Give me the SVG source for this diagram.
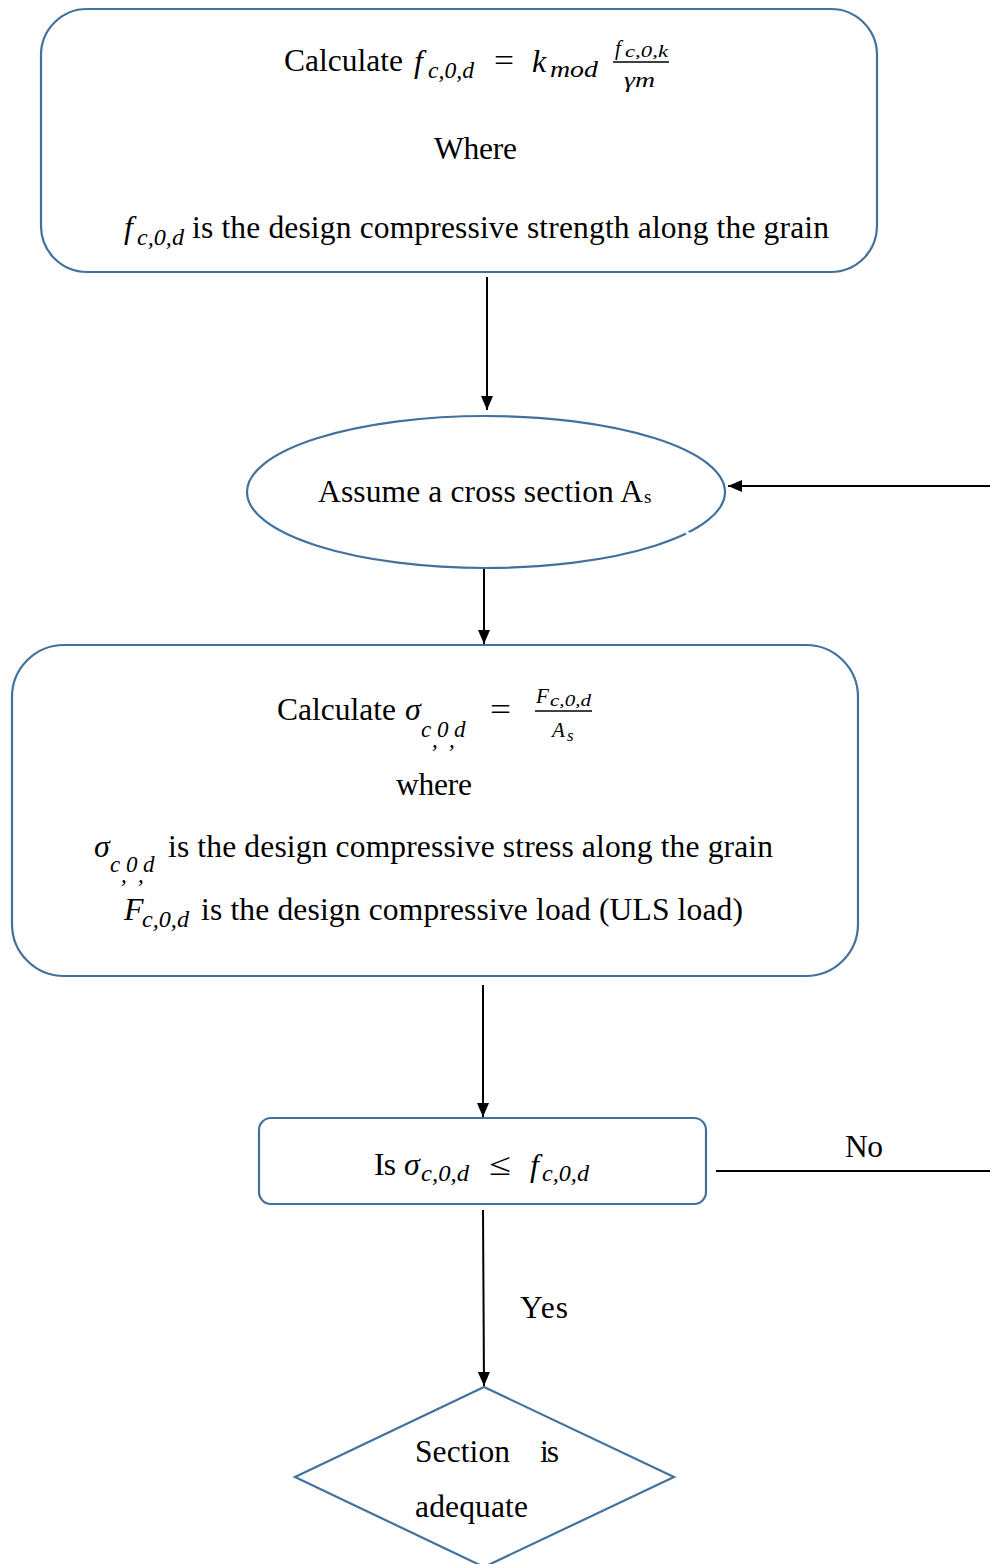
<svg xmlns="http://www.w3.org/2000/svg" width="990" height="1564" viewBox="0 0 990 1564">
  <style>
    .box { fill: #ffffff; stroke: #41719c; stroke-width: 2.2; }
    .t { font-family: "Liberation Serif", "Times New Roman", Tinos, serif; font-size: 31.5px; fill: #000; }
    .m { font-family: "Liberation Serif", "Times New Roman", Tinos, serif; font-style: italic; font-size: 32px; fill: #000; }
    .s { font-family: "Liberation Serif", "Times New Roman", Tinos, serif; font-style: italic; font-size: 23px; fill: #000; }
    .f { font-family: "Liberation Serif", "Times New Roman", Tinos, serif; font-style: italic; font-size: 21px; fill: #000; }
    .fs { font-family: "Liberation Serif", "Times New Roman", Tinos, serif; font-style: italic; font-size: 17px; fill: #000; }
    .sn { font-family: "Liberation Serif", "Times New Roman", Tinos, serif; font-size: 19px; fill: #000; }
    .line { stroke: #000; stroke-width: 2; fill: none; }
    .bar { stroke: #000; stroke-width: 1.4; }
  </style>
  <defs>
    <marker id="ah" viewBox="0 0 14 12" refX="14" refY="6" markerWidth="14" markerHeight="12" orient="auto" markerUnits="userSpaceOnUse">
      <path d="M0,0 L14,6 L0,12 z" fill="#000"/>
    </marker>
  </defs>
  <rect width="990" height="1564" fill="#ffffff"/>

  <!-- connectors -->
  <g id="connectors">
    <line class="line" x1="487" y1="277" x2="487" y2="410" marker-end="url(#ah)"/>
    <line class="line" x1="990" y1="486" x2="728" y2="486" marker-end="url(#ah)"/>
    <line class="line" x1="484" y1="569" x2="484" y2="644" marker-end="url(#ah)"/>
    <line class="line" x1="483" y1="985" x2="483" y2="1117" marker-end="url(#ah)"/>
    <line class="line" x1="716" y1="1171" x2="990" y2="1171"/>
    <line class="line" x1="483" y1="1210" x2="484" y2="1386" marker-end="url(#ah)"/>
    <text class="t" x="845" y="1157" textLength="38">No</text>
    <text class="t" x="520" y="1318" textLength="48">Yes</text>
  </g>

  <!-- design strength -->
  <g id="node-strength">
    <rect class="box" x="41" y="9" width="836" height="263" rx="46" ry="46"/>
    <text class="t" x="284" y="71" textLength="119">Calculate</text>
    <text class="m" x="414" y="72">f</text>
    <text class="s" x="428" y="78" textLength="46" lengthAdjust="spacingAndGlyphs">c,0,d</text>
    <text class="t" x="494" y="71" textLength="20" lengthAdjust="spacingAndGlyphs">=</text>
    <text class="m" x="532" y="72">k</text>
    <text class="s" x="550" y="77" textLength="48" lengthAdjust="spacingAndGlyphs">mod</text>
    <text class="f" x="615" y="55">f</text>
    <text class="fs" x="625" y="57" textLength="43" lengthAdjust="spacingAndGlyphs">c,0,k</text>
    <line class="bar" x1="613" y1="62" x2="669" y2="62"/>
    <text class="f" x="624" y="87" textLength="31" lengthAdjust="spacingAndGlyphs">γm</text>
    <text class="t" x="434" y="159" textLength="83">Where</text>
    <text class="m" x="124" y="238">f</text>
    <text class="s" x="137" y="245" textLength="47" lengthAdjust="spacingAndGlyphs">c,0,d</text>
    <text class="t" x="192" y="238" textLength="637">is the design compressive strength along the grain</text>
  </g>

  <!-- cross section -->
  <g id="node-section">
    <ellipse class="box" cx="486" cy="492" rx="239" ry="76"/>
    <line x1="686" y1="532" x2="692" y2="536" stroke="#ffffff" stroke-width="3"/>
    <text class="t" x="318" y="502" textLength="325">Assume a cross section A</text>
    <text class="sn" x="644" y="503">s</text>
  </g>

  <!-- design stress -->
  <g id="node-stress">
    <rect class="box" x="12" y="645" width="846" height="331" rx="52" ry="52"/>
    <text class="t" x="277" y="720" textLength="119">Calculate</text>
    <text class="m" x="405" y="720">σ</text>
    <text class="s" x="421" y="737">c</text>
    <text class="s" x="437" y="737" font-style="normal">0</text>
    <text class="s" x="454" y="737">d</text>
    <text class="s" x="432" y="747">,</text>
    <text class="s" x="449" y="747">,</text>
    <text class="t" x="490" y="720" textLength="21" lengthAdjust="spacingAndGlyphs">=</text>
    <text class="f" x="536" y="703">F</text>
    <text class="fs" x="550" y="706" textLength="41" lengthAdjust="spacingAndGlyphs">c,0,d</text>
    <line class="bar" x1="535" y1="711" x2="592" y2="711"/>
    <text class="f" x="552" y="737">A</text>
    <text class="fs" x="567" y="741">s</text>
    <text class="t" x="396" y="795" textLength="76">where</text>
    <text class="m" x="94" y="857">σ</text>
    <text class="s" x="110" y="872">c</text>
    <text class="s" x="126" y="872" font-style="normal">0</text>
    <text class="s" x="143" y="872">d</text>
    <text class="s" x="121" y="882">,</text>
    <text class="s" x="138" y="882">,</text>
    <text class="t" x="168" y="857" textLength="605">is the design compressive stress along the grain</text>
    <text class="m" x="124" y="920">F</text>
    <text class="s" x="142" y="927" textLength="47" lengthAdjust="spacingAndGlyphs">c,0,d</text>
    <text class="t" x="201" y="920" textLength="542">is the design compressive load (ULS load)</text>
  </g>

  <!-- check -->
  <g id="node-check">
    <rect class="box" x="259" y="1118" width="447" height="86" rx="12" ry="12"/>
    <text class="t" x="374" y="1175" textLength="22">Is</text>
    <text class="m" x="404" y="1175">σ</text>
    <text class="s" x="421" y="1181" textLength="48" lengthAdjust="spacingAndGlyphs">c,0,d</text>
    <text class="t" x="489" y="1175" textLength="22" lengthAdjust="spacingAndGlyphs">≤</text>
    <text class="m" x="530" y="1176">f</text>
    <text class="s" x="542" y="1181" textLength="47" lengthAdjust="spacingAndGlyphs">c,0,d</text>
  </g>

  <!-- result -->
  <g id="node-adequate">
    <polygon class="box" points="484,1387 674,1477 484,1567 295,1477"/>
    <text class="t" x="415" y="1462" textLength="95">Section</text>
    <text class="t" x="540" y="1462" textLength="19">is</text>
    <text class="t" x="415" y="1517" textLength="113">adequate</text>
  </g>
</svg>
